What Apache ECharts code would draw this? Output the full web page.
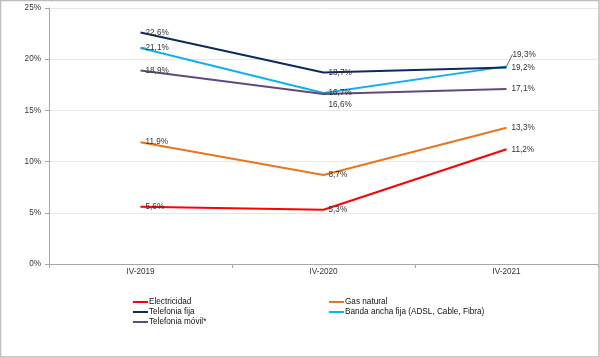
<!DOCTYPE html>
<html><head><meta charset="utf-8">
<script src="https://cdn.jsdelivr.net/npm/echarts@6/dist/echarts.min.js"></script>
<style>html,body{margin:0;padding:0;background:#fff}#c{width:600px;height:358px}</style>
</head><body><div id="c"></div>
<script>
const categories = ['IV-2019', 'IV-2020', 'IV-2021'];
const electricidad = [5.6, 5.3, 11.2];
const gasNatural = [11.9, 8.7, 13.3];
const telefoniaFija = [22.6, 18.7, 19.2];
const bandaAncha = [21.1, 16.7, 19.3];
const telefoniaMovil = [18.9, 16.6, 17.1];
const yTicks = [0, 5, 10, 15, 20, 25];

const FONT = '"Liberation Sans", Arial, sans-serif';
const fmt = v => v.toFixed(1).replace('.', ',') + '%';

function mkSeries(name, data, color, opts) {
  opts = opts || {};
  return {
    name: name, type: 'line', data: data.map((v, i) => {
      const d = { value: v };
      if (opts.labelOffset && opts.labelOffset[i]) d.label = { offset: opts.labelOffset[i] };
      return d;
    }),
    symbol: 'circle', symbolSize: 0, showSymbol: true,
    lineStyle: { color: color, width: 2 },
    itemStyle: { color: color },
    label: { show: true, position: 'right', distance: 5, color: '#333', fontSize: 8.2, fontFamily: FONT,
      formatter: p => fmt(p.value) },
    labelLine: opts.labelLine ? { show: true, lineStyle: { color: '#666', width: 1 } } : undefined,
    labelLayout: opts.labelLayout,
    z: opts.z || 2
  };
}

const series = [
  mkSeries('Electricidad', electricidad, '#ff0000'),
  mkSeries('Gas natural', gasNatural, '#e8761e'),
  mkSeries('Telefonia fija', telefoniaFija, '#0d2a5e', { z: 3 }),
  mkSeries('Banda ancha fija (ADSL, Cable, Fibra)', bandaAncha, '#12b0ee', {
    labelLine: true,
    labelLayout: p => p.dataIndex === 2 ? { dx: 1, dy: -12 } : {}
  }),
  mkSeries('Telefonia móvil*', telefoniaMovil, '#604a7b', { labelOffset: [null, [0, 11], null] })
];

const legendPos = [
  { name: 'Electricidad', left: 133, top: 298 },
  { name: 'Gas natural', left: 329, top: 298 },
  { name: 'Telefonia fija', left: 133, top: 308 },
  { name: 'Banda ancha fija (ADSL, Cable, Fibra)', left: 329, top: 308 },
  { name: 'Telefonia móvil*', left: 133, top: 318 }
];

const chart = echarts.init(document.getElementById('c'), null, { renderer: 'canvas' });
chart.setOption({
  animation: false,
  backgroundColor: '#fff',
  textStyle: { fontFamily: FONT },
  grid: { left: 49, right: 2, top: 8, bottom: 94, containLabel: false },
  xAxis: {
    type: 'category', data: categories, boundaryGap: true,
    axisLine: { lineStyle: { color: '#a6a6a6', width: 1 } },
    axisTick: { show: true, length: 4, lineStyle: { color: '#a6a6a6' } },
    axisLabel: { color: '#333', fontSize: 8.2, margin: 4, fontFamily: FONT }
  },
  yAxis: {
    type: 'value', min: yTicks[0], max: yTicks[yTicks.length - 1], interval: 5,
    axisLine: { show: true, lineStyle: { color: '#a6a6a6', width: 1 } },
    axisTick: { show: true, length: 4, lineStyle: { color: '#a6a6a6' } },
    splitLine: { show: true, lineStyle: { color: '#e8e8e0', width: 1 } },
    axisLabel: { color: '#333', fontSize: 8.2, margin: 8, fontFamily: FONT, formatter: v => v + '%' }
  },
  legend: legendPos.map(l => ({
    data: [l.name], left: l.left, top: l.top, padding: 0,
    icon: 'rect', itemWidth: 15, itemHeight: 2, itemGap: 0,
    textStyle: { color: '#111', fontSize: 8.2, fontFamily: FONT, padding: [0, 0, 0, -4] },
    selectedMode: false
  })),
  graphic: [{
    type: 'rect', shape: { x: 0.5, y: 0.5, width: 598.5, height: 356.5 },
    style: { fill: 'none', stroke: '#bdbdbd', lineWidth: 1.5 }, silent: true, z: 100
  }],
  series: series
});
</script></body></html>
